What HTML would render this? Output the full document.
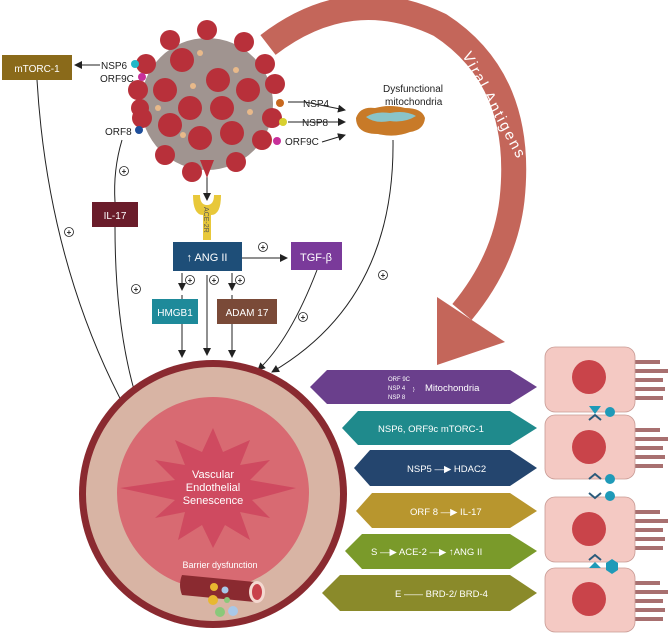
<!DOCTYPE html>
<html><head><meta charset="utf-8"><style>
body{margin:0;background:#fff}
svg{display:block;font-family:"Liberation Sans",sans-serif}
</style></head><body>
<svg width="669" height="634" viewBox="0 0 669 634" xmlns="http://www.w3.org/2000/svg">
<defs>
<marker id="a" markerWidth="8" markerHeight="8" refX="7" refY="4" orient="auto" markerUnits="userSpaceOnUse"><path d="M0,0 L8,4 L0,8z" fill="#222"/></marker>
</defs>
<path d="M268 45 Q350 -18 440 25 Q525 80 512 200 Q505 260 462 312" fill="none" stroke="#c4665a" stroke-width="25"/>
<polygon points="437,297 505,342 437,365" fill="#c4665a"/>
<text font-size="15" fill="#fff" letter-spacing="2" transform="translate(462,55) rotate(62)">Viral Antigens</text>

<g fill="none" stroke="#222" stroke-width="1">
<path d="M37 80 Q50 300 160 467" marker-end="url(#a)"/>
<path d="M122 140 Q113 170 115 202"/>
<path d="M115 227 Q115 380 165 465" marker-end="url(#a)"/>
<path d="M182 295 L182 357" marker-end="url(#a)"/>
<path d="M207 275 L207 355" marker-end="url(#a)"/>
<path d="M232 295 L232 357" marker-end="url(#a)"/>
<path d="M317 270 Q290 340 258 370" marker-end="url(#a)"/>
<path d="M393 140 Q395 300 272 372" marker-end="url(#a)"/>
<path d="M242 258 L287 258" marker-end="url(#a)"/>
<path d="M182 273 L182 290" marker-end="url(#a)"/>
<path d="M232 273 L232 290" marker-end="url(#a)"/>
<path d="M207 162 L207 200" marker-end="url(#a)"/>
<path d="M100 65 L75 65" marker-end="url(#a)"/>
<path d="M288 102 L305 102 L345 110" marker-end="url(#a)"/>
<path d="M288 122 L345 122" marker-end="url(#a)"/>
<path d="M322 142 L345 135" marker-end="url(#a)"/>
</g>
<g fill="none" stroke="#222" stroke-width="0.8">
<circle cx="124" cy="171" r="4.5"/><circle cx="69" cy="232" r="4.5"/><circle cx="136" cy="289" r="4.5"/>
<circle cx="263" cy="247" r="4.5"/><circle cx="190" cy="280" r="4.5"/><circle cx="214" cy="280" r="4.5"/><circle cx="240" cy="280" r="4.5"/>
<circle cx="303" cy="317" r="4.5"/><circle cx="383" cy="275" r="4.5"/><circle cx="188" cy="311" r="4.5"/><circle cx="240" cy="311" r="4.5"/>
</g>
<g font-size="8" fill="#222" text-anchor="middle" font-weight="bold">
<text x="124" y="174">+</text><text x="69" y="235">+</text><text x="136" y="292">+</text><text x="263" y="250">+</text><text x="190" y="283">+</text><text x="214" y="283">+</text><text x="240" y="283">+</text><text x="303" y="320">+</text><text x="383" y="278">+</text><text x="188" y="314">+</text><text x="240" y="314">+</text>
</g>

<g>
<circle cx="207" cy="104" r="66" fill="#a09490"/>
<g fill="#b8303a">
<circle cx="207" cy="30" r="10"/><circle cx="170" cy="40" r="10"/><circle cx="244" cy="42" r="10"/><circle cx="146" cy="64" r="10"/><circle cx="265" cy="64" r="10"/>
<circle cx="138" cy="90" r="10"/><circle cx="275" cy="84" r="10"/><circle cx="142" cy="118" r="10"/><circle cx="272" cy="118" r="10"/><circle cx="165" cy="155" r="10"/>
<circle cx="192" cy="172" r="10"/><circle cx="236" cy="162" r="10"/><circle cx="262" cy="140" r="10"/><circle cx="140" cy="108" r="9"/>
<circle cx="182" cy="60" r="12"/><circle cx="218" cy="80" r="12"/><circle cx="248" cy="90" r="12"/><circle cx="165" cy="90" r="12"/><circle cx="190" cy="108" r="12"/><circle cx="222" cy="108" r="12"/><circle cx="170" cy="125" r="12"/><circle cx="232" cy="133" r="12"/><circle cx="200" cy="138" r="12"/>
</g>
<g fill="#e8b98a"><circle cx="200" cy="53" r="3"/><circle cx="236" cy="70" r="3"/><circle cx="193" cy="86" r="3"/><circle cx="158" cy="108" r="3"/><circle cx="250" cy="112" r="3"/><circle cx="183" cy="135" r="3"/></g>
<polygon points="200,160 214,160 207,178" fill="#b8303a"/>
</g>
<circle cx="135" cy="64" r="4" fill="#22b8c8"/>
<circle cx="142" cy="77" r="4" fill="#c8309a"/>
<circle cx="139" cy="130" r="4" fill="#1e4e9a"/>
<circle cx="280" cy="103" r="4" fill="#c8681e"/>
<circle cx="283" cy="122" r="4" fill="#d8d030"/>
<circle cx="277" cy="141" r="4" fill="#c8309a"/>
<g font-size="10" fill="#222">
<text x="101" y="69">NSP6</text><text x="100" y="82">ORF9C</text><text x="105" y="135">ORF8</text>
<text x="303" y="107">NSP4</text><text x="302" y="126">NSP8</text><text x="285" y="145">ORF9C</text>
<text x="383" y="92">Dysfunctional</text><text x="385" y="105">mitochondria</text>
</g>
<path d="M356 118 Q360 106 375 108 Q390 104 405 108 Q422 108 425 118 Q424 130 410 132 Q395 138 378 134 Q356 134 356 118z" fill="#c87a28"/>
<path d="M366 117 Q375 111 390 113 Q405 110 416 116 Q405 123 390 121 Q375 124 366 117z" fill="#8ac4c8"/>

<path d="M193 195 Q193 215 203 215 L203 240 L211 240 L211 215 Q221 215 221 195 L214 195 Q214 205 207 205 Q200 205 200 195z" fill="#e8c83a"/>
<text font-size="7" fill="#555" transform="translate(204,207) rotate(90)">ACE-2R</text>

<rect x="2" y="55" width="70" height="25" fill="#8a6a1a"/><text x="37" y="72" font-size="10" fill="#fff" text-anchor="middle">mTORC-1</text>
<rect x="92" y="202" width="46" height="25" fill="#6a1c2a"/><text x="115" y="219" font-size="10" fill="#fff" text-anchor="middle">IL-17</text>
<rect x="173" y="242" width="69" height="29" fill="#1e4e78"/><text x="207" y="261" font-size="11" fill="#fff" text-anchor="middle">↑ ANG II</text>
<rect x="291" y="242" width="51" height="28" fill="#7a3a9a"/><text x="316" y="261" font-size="11" fill="#fff" text-anchor="middle">TGF-β</text>
<rect x="152" y="299" width="46" height="25" fill="#1e8a9a"/><text x="175" y="316" font-size="10" fill="#fff" text-anchor="middle">HMGB1</text>
<rect x="217" y="299" width="60" height="25" fill="#7a4a38"/><text x="247" y="316" font-size="10" fill="#fff" text-anchor="middle">ADAM 17</text>

<circle cx="213" cy="494" r="134" fill="#8a2a30"/>
<circle cx="213" cy="494" r="127" fill="#d8b4a4"/>
<circle cx="213" cy="493" r="96" fill="#d86a72"/>
<polygon fill="#cf4a60" points="213,428 223,452 250,440 240,465 270,460 250,480 296,488 252,500 270,518 240,512 250,540 225,525 213,548 202,525 178,540 185,512 155,518 175,500 120,488 175,480 155,460 185,465 175,440 202,452"/>
<g font-size="11" fill="#fff" text-anchor="middle"><text x="213" y="478">Vascular</text><text x="213" y="491">Endothelial</text><text x="213" y="504">Senescence</text></g>
<text x="220" y="568" font-size="9" fill="#fff" text-anchor="middle">Barrier dysfunction</text>
<path d="M182 575 L255 582 L255 602 L182 595 Q178 585 182 575z" fill="#8a2a30"/>
<ellipse cx="257" cy="592" rx="8" ry="11" fill="#f4d8d0"/><ellipse cx="257" cy="592" rx="5" ry="8" fill="#c8404a"/>
<circle cx="214" cy="587" r="4" fill="#e8b830"/><circle cx="225" cy="590" r="3.5" fill="#a8c8e8"/><circle cx="213" cy="600" r="5" fill="#e8b830"/><circle cx="227" cy="600" r="3" fill="#8ac87a"/><circle cx="220" cy="612" r="5" fill="#8ac87a"/><circle cx="233" cy="611" r="5" fill="#a8c8e8"/>

<polygon points="310,387 327,370 510,370 537,387 510,404 327,404" fill="#6a3f8c"/>
<polygon points="342,428 358,411 510,411 537,428 510,445 358,445" fill="#1f8a8c"/>
<polygon points="354,468 370,450 510,450 537,468 510,486 370,486" fill="#24456e"/>
<polygon points="356,511 372,493 510,493 537,511 510,528 372,528" fill="#b8962e"/>
<polygon points="345,551 362,534 510,534 537,551 510,569 362,569" fill="#7a9a2a"/>
<polygon points="322,593 340,575 510,575 537,593 510,611 340,611" fill="#8a8a2a"/>
<g fill="#fff" font-size="9.5">
<text x="388" y="381" font-size="6">ORF 9C</text><text x="388" y="390" font-size="6">NSP 4</text><text x="388" y="399" font-size="6">NSP 8</text>
<text x="413" y="391" font-size="5">}</text>
<text x="425" y="391">Mitochondria</text>
<text x="378" y="432">NSP6, ORF9c     mTORC-1</text>
<text x="407" y="472">NSP5 —▶ HDAC2</text>
<text x="410" y="515">ORF 8  —▶  IL-17</text>
<text x="371" y="555">S —▶ ACE-2 —▶ ↑ANG II</text>
<text x="395" y="597">E  ——  BRD-2/ BRD-4</text>
</g>

<g fill="#a87070">
<rect x="635" y="360" width="25" height="4"/><rect x="635" y="369" width="33" height="4"/><rect x="635" y="378" width="28" height="4"/><rect x="635" y="387" width="30" height="4"/><rect x="635" y="396" width="28" height="4"/>
<rect x="635" y="428" width="25" height="4"/><rect x="635" y="437" width="33" height="4"/><rect x="635" y="446" width="28" height="4"/><rect x="635" y="455" width="30" height="4"/><rect x="635" y="464" width="28" height="4"/>
<rect x="635" y="510" width="25" height="4"/><rect x="635" y="519" width="33" height="4"/><rect x="635" y="528" width="28" height="4"/><rect x="635" y="537" width="30" height="4"/><rect x="635" y="546" width="28" height="4"/>
<rect x="635" y="581" width="25" height="4"/><rect x="635" y="590" width="33" height="4"/><rect x="635" y="599" width="28" height="4"/><rect x="635" y="608" width="30" height="4"/><rect x="635" y="617" width="28" height="4"/>
</g>
<g fill="#f4c9c3" stroke="#c89a94" stroke-width="0.8">
<rect x="545" y="347" width="90" height="65" rx="10"/>
<rect x="545" y="415" width="90" height="64" rx="10"/>
<rect x="545" y="497" width="90" height="65" rx="10"/>
<rect x="545" y="568" width="90" height="64" rx="10"/>
</g>
<g fill="#c9444a"><circle cx="589" cy="377" r="17"/><circle cx="589" cy="447" r="17"/><circle cx="589" cy="529" r="17"/><circle cx="589" cy="599" r="17"/></g>
<g fill="#1f9ab8">
<polygon points="589,406 601,406 595,414"/><circle cx="610" cy="412" r="5"/>
<path d="M589,420 L595,415 L601,420" fill="none" stroke="#2a5a7a" stroke-width="2"/>
<path d="M589,479 L595,474 L601,479" fill="none" stroke="#2a5a7a" stroke-width="2"/><circle cx="610" cy="479" r="5"/>
<path d="M589,493 L595,498 L601,493" fill="none" stroke="#2a5a7a" stroke-width="2"/><circle cx="610" cy="496" r="5"/>
<path d="M589,560 L595,555 L601,560" fill="none" stroke="#2a5a7a" stroke-width="2"/><polygon points="589,568 595,562 601,568"/>
<polygon points="606,563 612,559 618,563 618,570 612,574 606,570"/>
</g>
</svg>
</body></html>
